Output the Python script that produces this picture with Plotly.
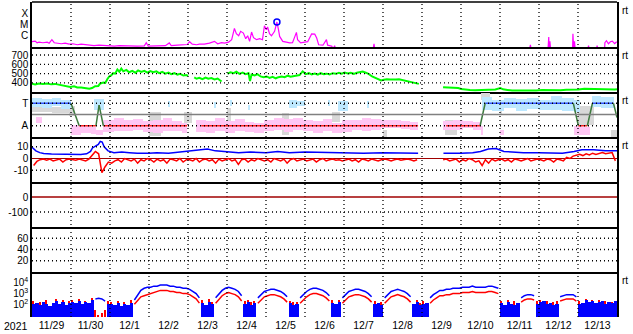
import plotly.graph_objects as go
import numpy as np

# ---------------- DATA (time = days since 2021-11-29 00 UT) ----------------
DAY_LABELS = ["11/29", "11/30", "12/1", "12/2", "12/3", "12/4", "12/5", "12/6",
              "12/7", "12/8", "12/9", "12/10", "12/11", "12/12", "12/13"]

# Panel 1: X-ray flux, log10(W/m2)
xray_t = [0.00, 0.08, 0.13, 0.18, 0.28, 0.39, 0.44, 0.51, 0.57, 0.64, 0.75, 0.85, 0.95, 1.05, 1.16, 1.26,
          1.36, 1.47, 1.59, 1.72, 1.85, 1.98, 2.11, 2.24, 2.37, 2.49, 2.70, 2.88, 2.93, 2.98, 3.14, 3.26,
          3.42, 3.52, 3.57, 3.73, 3.88, 3.98, 4.04, 4.11, 4.22, 4.29, 4.42, 4.55, 4.68, 4.76, 4.86, 4.94,
          5.04, 5.12, 5.19, 5.24, 5.30, 5.35, 5.42, 5.48, 5.53, 5.58, 5.63, 5.68, 5.76, 5.84, 5.91, 5.96,
          6.01, 6.04, 6.09, 6.14, 6.22, 6.28, 6.32, 6.35, 6.43, 6.53, 6.61, 6.68, 6.78, 6.81, 6.89, 6.99,
          7.07, 7.17, 7.25, 7.30, 7.35, 7.46, 7.55, 7.58, 7.63, 7.69, 7.71, 7.76, 7.79, 8.74, 8.77, 8.79,
          12.75, 12.78, 12.80, 13.23, 13.25, 13.26, 13.28, 13.30, 13.86, 13.87, 13.89, 13.91, 13.93,
          14.25, 14.27, 14.29, 14.47, 14.49, 14.51, 14.68, 14.69, 14.73, 14.78, 14.83, 14.88, 14.94, 14.99]
xray_e = [-6.53, -6.48, -6.62, -6.57, -6.62, -6.57, -6.66, -6.35, -6.62, -6.66, -6.71, -6.66, -6.75, -6.71, -6.80, -6.75,
          -6.80, -6.84, -6.88, -6.84, -6.88, -6.90, -6.93, -6.88, -6.91, -6.88, -6.93, -6.90, -6.62, -6.93, -6.93, -6.91,
          -6.88, -6.64, -6.88, -6.84, -6.82, -6.78, -6.53, -6.75, -6.80, -6.75, -6.75, -6.66, -6.50, -6.71, -6.62, -6.66,
          -6.57, -6.35, -5.35, -5.82, -6.00, -5.61, -5.76, -6.26, -6.00, -6.50, -5.67, -6.17, -6.35, -6.26, -6.35, -5.11,
          -5.46, -5.22, -5.82, -6.00, -5.61, -4.78, -5.46, -6.06, -6.50, -6.57, -6.64, -6.62, -5.70, -6.35, -6.64, -6.57,
          -6.53, -5.84, -5.86, -6.20, -6.80, -6.84, -6.35, -6.84, -6.88, -6.93, -7.30, -6.88, -7.30, -7.30, -6.71, -7.30,
          -7.30, -6.80, -7.30, -7.30, -6.11, -7.30, -6.50, -7.30, -7.30, -5.82, -7.30, -6.50, -7.30,
          -7.30, -6.88, -7.30, -7.30, -6.88, -7.30, -7.30, -6.62, -6.44, -6.71, -6.53, -6.48, -6.71, -6.53]
flare_t = [6.28]
flare_e = [-4.78]

# Panel 2: solar wind speed (km/s)
wind_t = [0.00, 0.08, 0.18, 0.28, 0.39, 0.49, 0.59, 0.69, 0.77, 0.87, 0.98, 1.08, 1.16, 1.26, 1.36, 1.47,
          1.54, 1.62, 1.70, 1.75, 1.83, 1.88, 1.93, 1.98, 2.03, 2.08, 2.13, 2.19, 2.24, 2.29, 2.34, 2.42,
          2.49, 2.57, 2.65, 2.72, 2.80, 2.88, 2.96, 3.03, 3.11, 3.19, 3.26, 3.34, 3.42, 3.50, 3.57, 3.65,
          3.73, 3.80, 3.88, 3.96, 4.00, 4.05,
          4.16, 4.22, 4.29, 4.37, 4.45, 4.52, 4.60, 4.68, 4.76, 4.83, 4.86, 4.90,
          5.01, 5.09, 5.17, 5.24, 5.32, 5.40, 5.48, 5.55, 5.59, 5.63, 5.71, 5.78, 5.86, 5.94, 6.02, 6.09,
          6.17, 6.25, 6.32, 6.40, 6.48, 6.56, 6.63, 6.71, 6.79, 6.86, 6.94, 7.02, 7.10, 7.17, 7.25, 7.33,
          7.40, 7.48, 7.56, 7.63, 7.71, 7.79, 7.87, 7.94, 8.02, 8.10, 8.17, 8.25, 8.33, 8.41, 8.48, 8.56,
          8.64, 8.72, 8.79, 8.87, 8.95, 9.02, 9.10, 9.18, 9.25, 9.33, 9.41, 9.49, 9.56, 9.64, 9.72, 9.79,
          9.87, 9.92, 9.95,
          10.54, 10.64, 10.75, 10.85, 10.93, 11.00, 11.11, 11.23, 11.36, 11.49, 11.62, 11.75, 11.88, 12.01,
          12.08, 12.19, 12.31, 12.47, 12.62, 12.78, 12.93, 13.08, 13.24, 13.39, 13.55, 13.70, 13.86, 14.01,
          14.16, 14.32, 14.47, 14.63, 14.78, 14.94, 15.00]
wind_v = [392, 385, 395, 388, 393, 385, 390, 380, 372, 362, 358, 365, 352, 350, 342, 338,
          345, 365, 368, 395, 405, 400, 440, 470, 480, 505, 500, 545, 520, 555, 525, 540,
          515, 530, 510, 535, 518, 530, 512, 528, 515, 525, 505, 520, 500, 512, 495, 505,
          490, 498, 480, 485, 475, None,
          460, 445, 455, 440, 458, 445, 452, 438, 448, 425, 415, None,
          500, 515, 505, 520, 498, 512, 495, 505, 420, 490, 480, 495, 470, 462, 470, 455,
          465, 450, 462, 470, 462, 478, 468, 475, 480, 485, 525, 495, 505, 492, 500, 490,
          505, 495, 500, 492, 505, 498, 510, 500, 512, 502, 508, 498, 510, 515, 522, 510,
          495, 470, 455, 440, 428, 435, 440, 436, 440, 438, 440, 432, 425, 418, 405, 400,
          395, 390, None,
          355, 352, 356, 350, 345, 335, 327, 325, 322, 325, 320, 325, 330, 345,
          332, 325, 318, 320, 318, 322, 320, 325, 322, 325, 322, 326, 324, 330,
          338, 335, 332, 335, 328, 330, 332]

# Panel 3: IMF sector (T = toward, A = away), angle in degrees
sector_t = [0.00, 1.00, 1.21, 1.64, 1.72, 1.83, 3.98, None, 4.34, 9.90, None, 10.62, 11.49, 11.62,
            13.88, 14.01, 14.24, 14.37, 14.91, 15.00]
sector_v = [270, 270, 90, 90, 255, 90, 90, None, 90, 90, None, 90, 90, 270,
            270, 90, 90, 270, 270, 156]
# scatter clouds: start day, end day, low angle, high angle
cloud_blue = [(0.00, 0.25, 240, 312), (0.25, 0.50, 230, 305), (0.50, 0.75, 245, 315), (0.75, 1.00, 225, 300),
              (1.60, 1.85, 215, 305), (3.50, 3.55, 240, 290), (4.68, 4.73, 230, 280),
              (5.10, 5.14, 250, 300), (5.55, 5.58, 220, 260), (6.60, 6.80, 232, 300), (6.80, 7.00, 250, 290),
              (7.60, 7.64, 250, 295), (7.85, 8.10, 212, 290), (8.60, 8.64, 230, 290),
              (11.55, 11.80, 215, 320), (11.80, 12.10, 210, 300), (12.10, 12.40, 230, 315), (12.40, 12.70, 210, 305),
              (12.70, 13.00, 225, 310), (13.00, 13.30, 215, 300), (13.30, 13.60, 220, 325), (13.60, 13.90, 210, 315),
              (13.90, 14.05, 200, 300), (14.35, 14.60, 240, 330), (14.60, 14.92, 235, 320)]
cloud_pink = [(0.10, 0.25, 115, 160), (1.00, 1.25, 20, 95), (1.25, 1.50, 30, 100), (1.50, 1.65, 25, 80),
              (1.65, 1.83, 15, 60), (1.83, 2.10, 40, 140), (2.10, 2.35, 50, 150), (2.35, 2.60, 45, 135),
              (2.60, 2.85, 55, 145), (2.85, 3.10, 40, 125), (3.10, 3.35, 35, 140), (3.35, 3.60, 50, 150),
              (3.60, 3.85, 45, 130), (3.85, 3.98, 30, 110), (4.20, 4.45, 40, 140), (4.45, 4.70, 30, 125),
              (4.70, 4.95, 45, 150), (4.95, 5.20, 35, 130), (5.20, 5.45, 50, 145), (5.45, 5.70, 40, 120),
              (5.70, 5.95, 30, 110), (5.95, 6.20, 45, 135), (6.20, 6.45, 55, 150), (6.45, 6.70, 40, 145),
              (6.70, 6.95, 60, 155), (6.95, 7.20, 45, 140), (7.20, 7.45, 35, 125), (7.45, 7.70, 50, 145),
              (7.70, 7.95, 30, 115), (7.95, 8.20, 40, 135), (8.20, 8.45, 55, 140), (8.45, 8.70, 45, 150),
              (8.70, 8.95, 60, 145), (8.95, 9.20, 70, 140), (9.20, 9.45, 75, 135), (9.45, 9.70, 65, 130),
              (9.70, 9.90, 55, 120), (10.55, 10.80, 60, 125), (10.80, 11.05, 55, 135), (11.05, 11.30, 70, 130),
              (11.30, 11.50, 60, 120), (11.50, 11.56, 20, 90), (12.00, 12.10, 20, 55), (13.90, 14.10, 15, 90),
              (14.10, 14.30, 20, 80)]
cloud_gray = [(0.00, 0.50, 200, 250), (0.50, 1.00, 190, 240), (0.95, 1.10, 170, 250), (3.00, 3.30, 10, 200),
              (3.90, 4.10, 110, 200), (5.00, 5.10, 100, 230), (6.40, 6.60, 20, 190), (7.70, 7.90, 120, 200),
              (9.00, 9.10, 0, 60), (10.60, 10.90, 20, 140), (11.50, 11.75, 300, 350), (12.00, 12.05, 180, 220),
              (14.00, 14.40, 100, 250), (14.85, 15.00, 0, 60)]

# Panel 4: IMF Bt (blue) and Bz (red), nT
bt_t = [0.00, 0.05, 0.10, 0.20, 0.30, 0.50, 0.75, 1.00, 1.25, 1.40, 1.50, 1.55, 1.60, 1.70, 1.75, 1.80,
        1.85, 1.95, 2.10, 2.30, 2.50, 2.70, 3.00, 3.20, 3.50, 3.80, 4.00, 4.30, 4.50, 4.70, 5.00, 5.30,
        5.60, 6.00, 6.30, 6.60, 7.00, 7.50, 8.00, 8.50, 9.00, 9.50, 9.90, 9.95,
        10.55, 10.80, 11.00, 11.30, 11.50, 11.70, 11.90, 12.10, 12.30, 12.60, 13.00, 13.30, 13.60, 13.90,
        14.10, 14.40, 14.70, 15.00]
bt_v = [9.5, 8.0, 6.5, 5.0, 4.2, 3.8, 3.5, 3.8, 3.5, 4.0, 6.0, 9.0, 10.0, 12.0, 14.5, 14.0,
        10.0, 6.5, 5.0, 5.5, 5.0, 4.5, 4.5, 5.0, 4.5, 5.5, 6.0, 7.0, 8.0, 6.5, 6.0, 5.0,
        5.5, 5.0, 6.0, 5.0, 5.5, 5.0, 5.0, 4.5, 4.8, 4.5, 4.5, None,
        4.5, 4.2, 4.5, 5.0, 6.0, 8.0, 8.5, 6.0, 5.5, 5.0, 5.0, 4.8, 4.5, 6.0,
        7.5, 7.5, 6.5, 6.5]
# Bz at 2-hour steps, one row per day
bz_rows = [
    [-6.0, -2.5, -1.0, -0.5, -1.5, -0.5, -2.0, -1.0, -0.5, -3.0, -1.0, -0.5],
    [-1.0, -1.5, -0.5, -1.0, -2.0, -0.5, 3.0, 6.0, 4.0, -12.0, -7.0, -3.0],
    [-4.0, -2.0, -1.0, -3.0, 0.0, -1.0, -2.0, -0.5, -4.0, -1.0, -2.0, 0.0],
    [-1.0, -3.0, -0.5, -2.0, -1.0, -4.0, -0.5, -1.0, -2.0, 0.0, -3.0, -1.0],
    [-1.0, -2.0, 0.0, -3.0, -1.0, -0.5, -2.0, -1.0, -4.0, -0.5, -2.0, -1.0],
    [0.0, -2.0, -1.0, -5.0, -1.0, -0.5, -3.0, -1.0, -2.0, 0.0, -1.0, -2.0],
    [-1.0, -3.0, 0.0, -1.0, -2.0, -0.5, -4.0, -1.0, 0.0, -2.0, -1.0, -0.5],
    [-2.0, -1.0, -0.5, -3.0, -1.0, 0.0, -2.0, -1.0, -0.5, -1.5, -1.0, -2.0],
    [-1.0, -0.5, -2.0, -1.0, -3.0, -0.5, -1.0, -2.0, -0.5, -1.0, -2.0, -1.0],
    [-0.5, -1.0, -2.0, -1.0, -0.5, -1.5, -1.0, -0.5, -1.0, -2.0, -1.0, None],
    [None, None, None, None, None, None, -1.0, -0.5, -2.0, -1.0, -0.5, -3.0],
    [-1.0, -2.0, 0.0, -1.0, -3.0, -2.0, -6.0, -1.0, -4.0, -0.5, -2.0, -1.0],
    [-0.5, -2.0, -1.0, -3.0, -0.5, -1.0, -2.0, -1.0, 0.0, -2.0, -1.0, -0.5],
    [-1.0, -2.0, -0.5, -1.0, -3.0, -0.5, -1.0, -2.0, 1.0, 0.0, 2.0, 3.0],
    [3.5, 2.5, 4.0, 3.0, 4.5, 3.5, 4.0, 5.0, 4.0, 4.5, 5.0, -2.0],
]

# Panel 7: electron flux, log10 values at 2-hour steps (line = smooth, fill = noisy)
N = None
e_blue_line = [
    [N]*12,
    [N, N, N, N, N, N, N, 2.5, 2.55, 2.5, 2.3, N],
    [N, N, N, N, N, N, N, 2.4, 2.9, 3.3, 3.5, 3.6],
    [3.6, 3.7, 3.7, 3.8, 3.8, 3.8, 3.7, 3.7, 3.6, 3.6, 3.5, 3.5],
    [3.4, 3.2, 3.0, 2.6, N, N, N, N, 2.6, 3.0, 3.3, 3.5],
    [3.6, 3.5, 3.4, 3.2, 2.8, N, N, N, N, 2.6, 2.9, 3.2],
    [3.3, 3.4, 3.4, 3.3, 3.2, 3.0, 2.7, N, N, N, 2.6, 2.9],
    [3.2, 3.4, 3.5, 3.5, 3.4, 3.3, 3.1, 2.8, N, N, N, 2.6],
    [2.9, 3.2, 3.3, 3.4, 3.4, 3.3, 3.2, 3.0, 2.7, N, N, N],
    [2.6, 2.9, 3.2, 3.3, 3.4, 3.3, 3.2, 3.0, 2.7, N, N, N],
    [N, N, 2.6, 2.9, 3.1, 3.3, 3.3, 3.4, 3.4, 3.5, 3.5, 3.5],
    [3.6, 3.6, 3.6, 3.7, 3.6, 3.6, 3.6, 3.6, 3.7, 3.7, 3.6, 3.5],
    [N, N, N, N, N, N, 2.6, 2.8, 2.9, 2.9, 2.8, N],
    [N, N, N, N, N, N, 2.7, 2.8, 2.9, 2.9, 2.9, 2.7],
    [N]*12,
]
e_blue_fill = [
    [2.0, 2.1, 1.9, 2.2, 2.0, 1.8, 2.1, 2.3, 2.0, 2.2, 1.9, 2.1],
    [2.2, 2.1, 2.3, 2.0, 2.2, 2.1, 2.4, N, N, N, N, 2.0],
    [2.0, 1.9, 2.1, 1.8, 2.0, 1.9, 2.1, N, N, N, N, N],
    [N]*12,
    [N, N, N, N, 2.1, 1.9, 2.2, 2.0, N, N, N, N],
    [N, N, N, N, N, 2.0, 2.2, 1.9, 2.1, N, N, N],
    [N, N, N, N, N, N, N, 2.1, 1.9, 2.0, N, N],
    [N, N, N, N, N, N, N, N, 2.1, 2.0, 2.2, N],
    [N, N, N, N, N, N, N, N, N, 2.0, 2.1, 1.9],
    [N, N, N, N, N, N, N, N, N, 2.0, 2.2, 1.9],
    [2.0, 2.1, N, N, N, N, N, N, N, N, N, N],
    [N]*12,
    [2.1, 1.9, 2.2, 2.0, 1.9, 2.1, N, N, N, N, N, 2.0],
    [2.2, 2.3, 2.0, 2.1, 1.9, 2.0, N, N, N, N, N, N],
    [2.0, 2.1, 2.4, 2.2, 2.3, 2.1, 2.2, 2.3, 2.0, 2.2, 2.1, 2.3],
]
e_red_line = [
    [N]*12,
    [N]*12,
    [N, N, N, N, N, N, N, 2.0, 2.4, 2.7, 2.8, 2.9],
    [3.0, 3.1, 3.2, 3.3, 3.3, 3.3, 3.2, 3.2, 3.1, 3.1, 3.0, 3.0],
    [2.9, 2.7, 2.5, 2.1, N, N, N, N, 2.1, 2.5, 2.8, 3.0],
    [3.1, 3.0, 2.9, 2.7, 2.3, N, N, N, N, 2.1, 2.4, 2.7],
    [2.8, 2.9, 2.9, 2.8, 2.7, 2.5, 2.2, N, N, N, 2.1, 2.4],
    [2.7, 2.9, 3.0, 3.0, 2.9, 2.8, 2.6, 2.3, N, N, N, 2.1],
    [2.4, 2.7, 2.8, 2.9, 2.9, 2.8, 2.7, 2.5, 2.2, N, N, N],
    [2.1, 2.4, 2.7, 2.8, 2.9, 2.8, 2.7, 2.5, 2.2, N, N, N],
    [N, N, 2.1, 2.4, 2.6, 2.8, 2.8, 2.9, 2.9, 3.0, 3.0, 3.0],
    [3.1, 3.1, 3.1, 3.2, 3.1, 3.1, 3.1, 3.1, 3.2, 3.2, 3.1, 3.0],
    [N, N, N, N, N, N, 2.2, 2.4, 2.5, 2.5, 2.4, N],
    [N, N, N, N, N, N, 2.3, 2.4, 2.5, 2.5, 2.5, 2.3],
    [N]*12,
]
# red spikes (drawn behind the blue fill, visible where higher)
e_red_fill = [
    [2.3, 1.5, 2.2, 1.6, 2.4, 1.5, 1.7, 2.5, 1.4, 2.4, 1.6, 2.3],
    [2.4, 1.6, 2.5, 1.7, 2.3, 1.8, 2.6, 1.5, 1.0, 1.2, 1.5, 2.3],
    [2.2, 1.5, 2.3, 1.4, 2.2, 1.6, 2.4, N, N, N, N, N],
    [N]*12,
    [N, N, N, N, 2.4, 1.6, 2.5, 2.2, N, N, N, N],
    [N, N, N, N, N, 2.3, 2.4, 2.2, 2.3, N, N, N],
    [N, N, N, N, N, N, N, 2.3, 2.2, 2.2, N, N],
    [N, N, N, N, N, N, N, N, 2.4, 1.7, 2.4, N],
    [N, N, N, N, N, N, N, N, N, 2.3, 1.9, 2.2],
    [N, N, N, N, N, N, N, N, N, 1.8, 2.4, 2.1],
    [2.3, 1.9, N, N, N, N, N, N, N, N, N, N],
    [N]*12,
    [2.3, 1.7, 2.4, 1.8, 2.3, 1.9, N, N, N, N, N, 2.3],
    [2.4, 2.1, 2.3, 1.9, 2.2, 2.3, N, N, N, N, N, N],
    [2.3, 1.8, 2.5, 1.5, 2.4, 1.4, 2.4, 1.5, 2.3, 1.9, 2.2, 1.8],
]

# ---------------- FIGURE ----------------
W, H = 633, 334
LPX, RPX = 32, 617
TOP, BOT = 2.3, 317.3
PH = 45.0
FONT = "Liberation Sans, Arial, sans-serif"
FS = 10

def py(ypx):
    return (BOT - ypx) / (BOT - TOP)

def axn(k):
    return ("x" if k == 0 else f"x{k+1}"), ("y" if k == 0 else f"y{k+1}")

fig = go.Figure()
slot_t = np.arange(180) / 12.0 + 1 / 24.0

def flat(rows):
    out = []
    for r in rows:
        out.extend(r)
    return out

# Panel 1
xa, ya = axn(0)
fig.add_trace(go.Scatter(x=xray_t, y=10 ** np.array(xray_e), mode="lines",
                         line=dict(color="#ff00ff", width=1.2), xaxis=xa, yaxis=ya))
fig.add_trace(go.Scatter(x=flare_t, y=10 ** np.array(flare_e), mode="markers",
                         marker=dict(symbol="circle-open", size=6, color="#0000ff", line=dict(width=1.5)),
                         xaxis=xa, yaxis=ya))

# Panel 2
xa, ya = axn(1)
fig.add_trace(go.Scatter(x=wind_t, y=wind_v, mode="lines", line=dict(color="#00ff00", width=2),
                         xaxis=xa, yaxis=ya))

# Panel 3
xa, ya = axn(2)
for clouds, col in ((cloud_gray, "#d8d8d8"), (cloud_pink, "#ffc6f4"), (cloud_blue, "#bde8ff")):
    fig.add_trace(go.Bar(x=[(a + b) / 2 for a, b, lo, hi in clouds], width=[b - a for a, b, lo, hi in clouds],
                         base=[lo for a, b, lo, hi in clouds], y=[hi - lo for a, b, lo, hi in clouds],
                         marker=dict(color=col, line=dict(width=0)), xaxis=xa, yaxis=ya))
segs = {"#3355ff": ([], []), "#ff2020": ([], []), "#3d7a3d": ([], [])}
for i in range(len(sector_t) - 1):
    t0, t1, v0, v1 = sector_t[i], sector_t[i + 1], sector_v[i], sector_v[i + 1]
    if t0 is None or t1 is None:
        continue
    if v0 == 270 and v1 == 270:
        c = "#3355ff"
    elif v0 == 90 and v1 == 90:
        c = "#ff2020"
    else:
        c = "#3d7a3d"
    segs[c][0].extend([t0, t1, None])
    segs[c][1].extend([v0, v1, None])
for c, (tt, vv) in segs.items():
    fig.add_trace(go.Scatter(x=tt, y=vv, mode="lines", line=dict(color=c, width=1.5), xaxis=xa, yaxis=ya))

# Panel 4
xa, ya = axn(3)
fig.add_trace(go.Scatter(x=bt_t, y=bt_v, mode="lines", line=dict(color="#0000ff", width=1.5),
                         xaxis=xa, yaxis=ya))
fig.add_trace(go.Scatter(x=slot_t, y=flat(bz_rows), mode="lines", line=dict(color="#ff0000", width=1.5),
                         xaxis=xa, yaxis=ya))

# Panel 7
xa, ya = axn(6)
vals = flat(e_red_fill)
fig.add_trace(go.Bar(x=slot_t, y=[None if v is None else 10 ** v for v in vals], width=1 / 30.0,
                     marker=dict(color="#ff0000", line=dict(width=0)), xaxis=xa, yaxis=ya))
vals = flat(e_blue_fill)
fig.add_trace(go.Bar(x=slot_t, y=[None if v is None else 10 ** v for v in vals], width=1 / 12.0,
                     marker=dict(color="#0000ff", line=dict(width=0)), xaxis=xa, yaxis=ya))
for rows, col in ((e_blue_line, "#0000ff"), (e_red_line, "#ff0000")):
    vals = flat(rows)
    fig.add_trace(go.Scatter(x=slot_t, y=[None if v is None else 10 ** v for v in vals], mode="lines",
                             line=dict(color=col, width=1.5), xaxis=xa, yaxis=ya))

# axes
yspec = [
    dict(type="log", range=[-7, -3], tickvals=[1e-6, 1e-5, 1e-4], ticktext=["C", "M", "X"]),
    dict(range=[303, 786], tickvals=[400, 500, 600, 700], ticktext=["400", "500", "600", "700"]),
    dict(range=[0, 360], tickvals=[90, 270], ticktext=["A", "T"]),
    dict(range=[-20, 18.3], tickvals=[-10, 0, 10], ticktext=["-10", "0", "10"]),
    dict(range=[-200, 100], tickvals=[-100, 0], ticktext=["-100", "0"]),
    dict(range=[0, 80], tickvals=[20, 40, 60], ticktext=["20", "40", "60"]),
    dict(type="log", range=[0.8, 5.03], tickvals=[1e2, 1e3, 1e4],
         ticktext=["10<sup>2</sup>", "10<sup>3</sup>", "10<sup>4</sup>"]),
]
layout = {}
for k in range(7):
    xa, ya = axn(k)
    top = TOP + k * PH
    bot = top + PH
    xd = dict(domain=[0, 1], range=[0, 15], anchor=ya, showgrid=False, zeroline=False,
              showline=(k < 6), mirror=False, linecolor="black", linewidth=1.5, ticks="",
              tickvals=[i + 0.5 for i in range(15)], ticktext=DAY_LABELS, showticklabels=(k == 6),
              tickfont=dict(family=FONT, size=10.5, color="black"), fixedrange=True)
    if k > 0:
        xd["matches"] = "x"
    yd = dict(domain=[py(bot), py(top)], anchor=xa, showgrid=False, zeroline=False, showline=True,
              mirror=True, linecolor="black", linewidth=1.5, ticks="",
              tickfont=dict(family=FONT, size=FS, color="black"), fixedrange=True)
    yd.update(yspec[k])
    layout["xaxis" if k == 0 else f"xaxis{k+1}"] = xd
    layout["yaxis" if k == 0 else f"yaxis{k+1}"] = yd

shapes = []
DOT = "1px,3px"
for d in range(1, 15):
    shapes.append(dict(type="line", xref="x", yref="paper", x0=d, x1=d, y0=0, y1=1,
                       line=dict(color="black", width=1.3, dash=DOT), layer="above"))
hgrid = {0: [-6, -5, -4], 1: [400, 500, 600, 700], 2: [90, 270], 3: [-10, 10], 4: [-100],
         5: [20, 40, 60], 6: [2, 3]}
for k, vals in hgrid.items():
    xa, ya = axn(k)
    for v in vals:
        shapes.append(dict(type="line", xref="paper", yref=ya, x0=0, x1=1, y0=v, y1=v,
                           line=dict(color="black", width=1.3, dash=DOT), layer="above"))
shapes.append(dict(type="line", xref="paper", yref="paper", x0=0, x1=1, y0=1, y1=1,
                   line=dict(color="black", width=1.5), layer="above"))
shapes.append(dict(type="line", xref="paper", yref="y3", x0=0, x1=1, y0=180, y1=180,
                   line=dict(color="#808080", width=1.5), layer="above"))
shapes.append(dict(type="line", xref="paper", yref="y4", x0=0, x1=1, y0=0, y1=0,
                   line=dict(color="#a00000", width=1.2), layer="below"))
shapes.append(dict(type="line", xref="paper", yref="y5", x0=0, x1=1, y0=0, y1=0,
                   line=dict(color="#a00000", width=1.3), layer="above"))
shapes.append(dict(type="line", xref="paper", yref="y7", x0=0, x1=1, y0=4, y1=4,
                   line=dict(color="#a00000", width=1.3, dash="8px,3px,2px,3px"), layer="above"))

annotations = [dict(text="2021", xref="paper", yref="paper", x=(16 - LPX) / (RPX - LPX), y=py(326.5),
                    xanchor="center", yanchor="middle", showarrow=False,
                    font=dict(family=FONT, size=10.5, color="black"))]
for k in (0, 1, 2, 3, 6):
    annotations.append(dict(text="rt", xref="paper", yref="paper", x=(620 - LPX) / (RPX - LPX),
                            y=py(TOP + k * PH + 8.5), xanchor="left", yanchor="middle", showarrow=False,
                            font=dict(family=FONT, size=10, color="black")))

fig.update_layout(width=W, height=H, margin=dict(l=LPX, r=W - RPX, t=TOP, b=H - BOT, pad=0),
                  paper_bgcolor="white", plot_bgcolor="white", showlegend=False, barmode="overlay",
                  bargap=0, shapes=shapes, annotations=annotations, **layout)
fig.write_html("out.html")
